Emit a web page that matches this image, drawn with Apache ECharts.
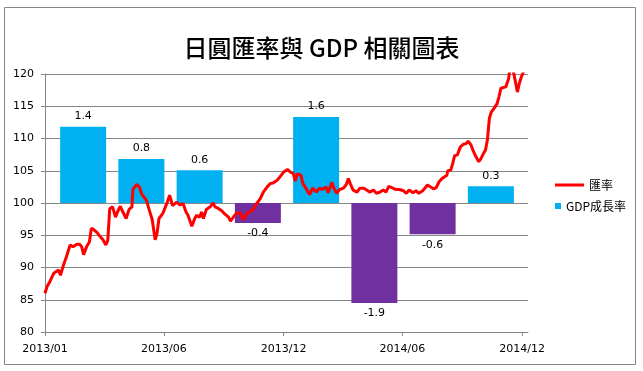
<!DOCTYPE html>
<html>
<head>
<meta charset="utf-8">
<script src="https://cdn.jsdelivr.net/npm/echarts@6/dist/echarts.min.js"></script>
<style>html,body{margin:0;padding:0;background:#fff;}#c{width:643px;height:371px;}</style>
</head>
<body>
<div id="c"></div>
<script>
// Trading-day index (0..500) and JPY exchange rate
const rateDays = [0,2,5,9,11,14,16,19,22,26,29,33,36,38,40,43,46,48,51,54,57,60,63,65,67,70,73,75,78,80,84,87,90,91,95,98,100,102,105,109,111,114,116,118,
122,126,129,132,136,138,140,143,146,148,152,155,157,160,162,164,167,171,174,176,179,183,186,190,192,195,198,202,205,208,211,215,219,223,226,230,233,236,240,243,
247,251,254,257,259,261,265,267,270,274,277,281,284,287,291,293,297,299,302,305,309,312,314,316,319,323,326,330,333,336,340,343,347,350,353,356,360,363,367,
371,374,377,381,384,387,391,393,396,399,402,405,408,411,413,416,417,420,422,424,427,430,433,436,438,441,443,446,449,451,454,456,458,460,462,465,468,470,472,474,477,480,481,484,487,489,491,493,496,499];
const rateValues = [86.0,87.0,87.8,89.1,88.8,89.6,88.8,90.3,91.6,93.5,93.2,93.6,93.6,93.2,92.0,93.2,94.0,96.1,95.8,95.4,94.8,94.3,93.5,94.2,99.1,99.4,97.8,98.6,99.5,98.8,97.6,99.0,99.4,102.1,102.9,102.4,101.4,101.7,100.4,98.4,97.4,94.3,95.3,97.6,
98.4,99.9,101.2,99.6,100.1,100.4,99.7,99.9,98.6,98.1,96.4,97.6,98.1,97.8,98.6,97.6,99.0,99.4,100.0,99.4,99.2,98.8,98.3,97.8,97.2,97.8,98.4,98.5,97.4,98.1,98.6,98.9,99.9,100.7,101.7,102.5,103.0,103.1,103.5,104.0,
104.8,105.2,104.8,104.6,103.4,104.5,104.3,103.0,102.3,101.3,102.3,101.7,102.3,102.1,102.5,101.6,103.2,102.3,101.5,102.1,102.3,102.9,103.8,103.0,102.0,101.7,102.3,102.3,102.0,101.7,102.0,101.5,101.7,102.0,101.7,102.6,102.3,102.1,102.1,
101.9,101.5,102.0,101.6,101.9,101.5,101.9,102.2,102.8,102.5,102.2,102.4,103.3,103.8,103.9,104.3,105.0,105.1,106.1,107.3,107.5,108.7,109.1,109.2,109.6,109.0,108.2,107.2,106.4,106.8,107.7,108.2,109.8,113.1,114.1,114.7,115.4,116.5,117.8,117.7,118.0,119.3,120.6,121.0,118.8,117.2,118.5,119.5,120.6,121.0];
const tickDays = [0,123,247,370,494];
const tickLabels = ['2013/01','2013/06','2013/12','2014/06','2014/12'];
const quarters = ['2013Q1','2013Q2','2013Q3','2013Q4','2014Q1','2014Q2','2014Q3','2014Q4'];
const gdpValues = [1.42,0.82,0.61,-0.37,1.6,-1.86,-0.58,0.31];

const FONT = 'DejaVu Sans';
const CJK = 'Noto Sans CJK TC';
const linePts = rateDays.map((d,i)=>[d, rateValues[i]]);
const barData = gdpValues.map(v=>({
  value: v,
  itemStyle: {color: v >= 0 ? '#00B0F0' : '#7030A0'},
  label: {position: v >= 0 ? 'top' : 'bottom'}
}));

const chart = echarts.init(document.getElementById('c'), null, {renderer:'canvas'});
chart.setOption({
  animation: false,
  backgroundColor: '#fff',
  title: {
    text: '日圓匯率與 GDP 相關圖表',
    left: 'center', top: 31,
    textStyle: {fontFamily: CJK, fontSize: 24, fontWeight: 500, color: '#000'}
  },
  graphic: [{
    type: 'rect', silent: true, z: -1,
    shape: {x: 4.5, y: 7.5, width: 631, height: 357},
    style: {fill: 'none', stroke: '#868686', lineWidth: 1}
  }],
  legend: [{
    data: [{name: '匯率', icon: 'rect'}],
    left: 550, top: 174, itemWidth: 29, itemHeight: 3,
    textStyle: {fontFamily: CJK, fontSize: 12, color: '#000'}
  }, {
    data: [{name: 'GDP成長率', icon: 'rect'}],
    left: 550, top: 195, itemWidth: 6, itemHeight: 6,
    textStyle: {fontFamily: CJK, fontSize: 12, color: '#000'}
  }],
  grid: [
    {left: 45, right: 115, top: 74, bottom: 39},
    {left: 54, right: 123, top: 74, bottom: 39}
  ],
  xAxis: [{
    gridIndex: 0, type: 'value', min: 0, max: 500,
    axisLine: {lineStyle: {color: '#868686'}},
    axisTick: {show: true, customValues: tickDays, length: 4, lineStyle: {color: '#868686'}},
    axisLabel: {customValues: tickDays, margin: 12, fontFamily: FONT, fontSize: 11, color: '#000',
      formatter: v => { const i = tickDays.indexOf(v); return i >= 0 ? tickLabels[i] : ''; }},
    splitLine: {show: false}
  }, {
    gridIndex: 1, type: 'category', data: quarters, show: false
  }],
  yAxis: [{
    gridIndex: 0, type: 'value', min: 80, max: 120, interval: 5,
    axisLine: {show: true, lineStyle: {color: '#868686'}},
    axisTick: {show: true, length: 4, lineStyle: {color: '#868686'}},
    axisLabel: {margin: 11, fontFamily: FONT, fontSize: 11, color: '#000'},
    splitLine: {show: true, lineStyle: {color: '#868686', width: 1}}
  }, {
    gridIndex: 1, type: 'value', min: -2.4, max: 2.4, show: false, splitLine: {show: false}
  }],
  series: [{
    name: 'GDP成長率', type: 'bar', xAxisIndex: 1, yAxisIndex: 1,
    data: barData, barWidth: 46, z: 2,
    itemStyle: {color: '#00B0F0'},
    label: {show: true, distance: 5, fontFamily: FONT, fontSize: 11, color: '#000',
      formatter: p => p.value.toFixed(1)}
  }, {
    name: '匯率', type: 'line', xAxisIndex: 0, yAxisIndex: 0,
    data: linePts, symbol: 'none', clip: true, z: 5,
    lineStyle: {color: '#FF0000', width: 3},
    itemStyle: {color: '#FF0000'}
  }]
});
</script>
</body>
</html>
